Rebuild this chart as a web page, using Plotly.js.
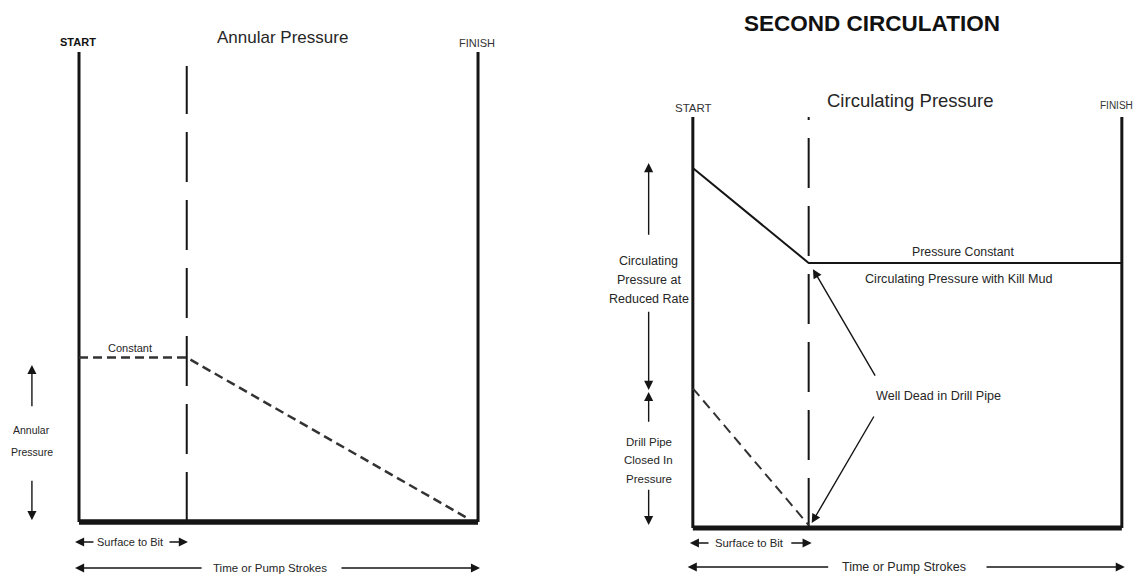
<!DOCTYPE html>
<html>
<head>
<meta charset="utf-8">
<script src="https://cdn.plot.ly/plotly-3.0.1.min.js"></script>
<style>html,body{margin:0;padding:0;background:#fff;}#chart{width:1142px;height:581px;}</style>
</head>
<body>
<div id="chart"></div>
<script>
// ---------------- DATA ----------------
// Horizontal axis: time / pump strokes (0 = START, 100 = FINISH)
// Vertical axis: pressure (0 = bottom of frame, 100 = top of frame)
const surfaceToBit = 27;

// Left panel: annular pressure (constant until surface-to-bit, then falls)
const annularStrokes = [0, 27, 97];
const annularPressure = [35, 35, 1];

// Right panel: circulating pressure (falls until surface-to-bit, then constant)
const circStrokes = [0, 27, 100];
const circPressure = [87.6, 64.5, 64.5];

// Right panel: drill pipe closed-in pressure (dashed, falls to zero at bit)
const dpStrokes = [0, 27];
const dpPressure = [34, 0.7];

// Frame (START / FINISH verticals and baseline)
const frameSideX = [0, 0, null, 100, 100];
const frameSideY = [0, 100, null, 0, 100];
const baseX = [0, 100];
const baseY = [0, 0];

// Labels
const mainTitle = 'SECOND CIRCULATION';
const leftTitle = 'Annular Pressure';
const rightTitle = 'Circulating Pressure';
const startLabel = 'START';
const finishLabel = 'FINISH';
const constantLabel = 'Constant';
const annularSideLines = ['Annular', 'Pressure'];
const circSideLines = ['Circulating', 'Pressure at', 'Reduced Rate'];
const dpSideLines = ['Drill Pipe', 'Closed In', 'Pressure'];
const pressureConstLabel = 'Pressure Constant';
const killMudLabel = 'Circulating Pressure with Kill Mud';
const wellDeadLabel = 'Well Dead in Drill Pipe';
const surfaceLabel = 'Surface to Bit';
const timeLabel = 'Time or Pump Strokes';

// ---------------- STYLE ----------------
const FONT = "'Liberation Sans', Arial, sans-serif";
const INK = '#151515';
const TXT = '#262626';

function line(x, y, xa, ya, width, dash, color) {
  return {x: x, y: y, xaxis: xa, yaxis: ya, type: 'scatter', mode: 'lines',
    line: {color: color || INK, width: width, dash: dash || 'solid'},
    hoverinfo: 'skip', showlegend: false};
}

const traces = [
  // left panel
  line(frameSideX, frameSideY, 'x', 'y', 3),
  line(baseX, baseY, 'x', 'y', 5.5),
  line([surfaceToBit, surfaceToBit], [0, 97], 'x', 'y', 2, '50px,18px'),
  line(annularStrokes, annularPressure, 'x', 'y', 2.5, '9px,5px', '#333'),
  // right panel
  line(frameSideX, frameSideY, 'x2', 'y2', 3),
  line(baseX, baseY, 'x2', 'y2', 5),
  line([surfaceToBit, surfaceToBit], [0, 100], 'x2', 'y2', 2, '50px,18px'),
  line(circStrokes, circPressure, 'x2', 'y2', 2),
  line(dpStrokes, dpPressure, 'x2', 'y2', 2, '10px,6px', '#333')
];

function txt(p, x, y, text, size, color) {
  return {xref: 'x' + p, yref: 'y' + p, x: x, y: y, text: text, showarrow: false,
    xanchor: 'center', yanchor: 'middle',
    font: {family: FONT, size: size, color: color || TXT}};
}
function stack(p, x, ys, lines, size) {
  return lines.map(function (t, i) { return txt(p, x, ys[i], t, size); });
}
function arrow(p, hx, hy, tx, ty) {
  return {xref: 'x' + p, yref: 'y' + p, axref: 'x' + p, ayref: 'y' + p,
    x: hx, y: hy, ax: tx, ay: ty, text: '', showarrow: true,
    arrowhead: 2, arrowsize: 1.3, arrowwidth: 1.4, arrowcolor: INK, standoff: 0, startstandoff: 0};
}

const annotations = [
  // ---- left panel (xref x) ----
  txt('', -0.25, 102.1, '<b>' + startLabel + '</b>', 11, '#111'),
  txt('', 50.9, 103.0, leftTitle, 17),
  txt('', 99.7, 101.9, finishLabel, 11, '#333'),
  txt('', 12.8, 37.0, constantLabel, 11),
  arrow('', -11.8, 33.4, -11.8, 24.3),
  arrow('', -11.8, 0.4, -11.8, 9.1),
  txt('', 12.9, -4.26, surfaceLabel, 11),
  arrow('', -1.0, -4.26, 4.0, -4.26),
  arrow('', 27.3, -4.26, 22.3, -4.26),
  txt('', 47.9, -9.8, timeLabel, 11.5),
  arrow('', -1.0, -9.8, 31.1, -9.8),
  arrow('', 100.5, -9.8, 65.4, -9.8),
  // ---- right panel (xref x2) ----
  txt('2', 0.2, 102.2, startLabel, 11.5, '#333'),
  txt('2', 50.8, 104.1, rightTitle, 18.5),
  txt('2', 98.8, 102.9, finishLabel, 10, '#333'),
  txt('2', 62.9, 67.2, pressureConstLabel, 12.3),
  txt('2', 62.0, 60.6, killMudLabel, 12.6),
  txt('2', 57.3, 32.1, wellDeadLabel, 12.6),
  arrow('2', 28.0, 63.0, 42.7, 36.7),
  arrow('2', 27.7, 1.2, 42.4, 27.5),
  arrow('2', -10.3, 88.8, -10.3, 71.0),
  arrow('2', -10.3, 33.6, -10.3, 53.0),
  arrow('2', -10.3, 33.1, -10.3, 25.5),
  arrow('2', -10.3, 0.7, -10.3, 9.7),
  txt('2', 13.1, -3.65, surfaceLabel, 11.3),
  arrow('2', -0.7, -3.65, 4.0, -3.65),
  arrow('2', 27.7, -3.65, 22.6, -3.65),
  txt('2', 49.2, -9.5, timeLabel, 12.5),
  arrow('2', -1.2, -9.5, 31.9, -9.5),
  arrow('2', 100.7, -9.5, 68.1, -9.5)
].concat(
  stack('', -11.8, [19.6, 14.9], annularSideLines, 10.5),
  stack('2', -10.3, [65.0, 60.3, 55.7], circSideLines, 12.5),
  stack('2', -10.3, [20.9, 16.5, 11.9], dpSideLines, 11.5)
);

function hiddenAxis(domain, range) {
  return {domain: domain, range: range, visible: false, showgrid: false, zeroline: false,
    showticklabels: false, fixedrange: true};
}

const layout = {
  width: 1142, height: 581,
  margin: {l: 0, r: 0, t: 0, b: 0, pad: 0},
  paper_bgcolor: '#ffffff', plot_bgcolor: '#ffffff',
  showlegend: false,
  title: {text: '<b>' + mainTitle + '</b>', x: 0.7636, xanchor: 'center', xref: 'paper',
    y: 0.9604, yanchor: 'middle', yref: 'paper',
    font: {family: FONT, size: 22.5, color: '#111'}},
  xaxis: hiddenAxis([0, 0.5], [-19.8, 123.3]),
  yaxis: hiddenAxis([0, 1], [-12.55, 111.06]),
  xaxis2: hiddenAxis([0.5, 1], [-28.4, 104.7]),
  yaxis2: hiddenAxis([0, 1], [-12.9, 128.5]),
  annotations: annotations
};
layout.xaxis.anchor = 'y';
layout.yaxis.anchor = 'x';
layout.xaxis2.anchor = 'y2';
layout.yaxis2.anchor = 'x2';

Plotly.newPlot('chart', traces, layout, {displayModeBar: false, staticPlot: true});
</script>
</body>
</html>
